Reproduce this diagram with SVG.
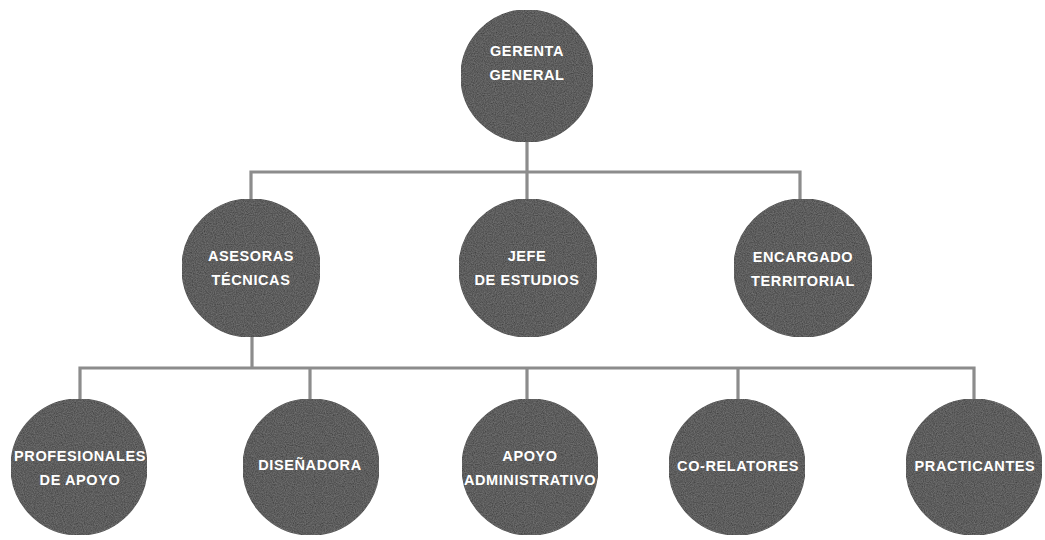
<svg xmlns="http://www.w3.org/2000/svg" width="1045" height="540" viewBox="0 0 1045 540">
  <defs>
    <filter id="grain" x="0" y="0" width="100%" height="100%">
      <feTurbulence type="fractalNoise" baseFrequency="0.9" numOctaves="2" seed="3" result="noise"/>
      <feColorMatrix in="noise" type="matrix" values="0 0 0 0 0.55  0 0 0 0 0.55  0 0 0 0 0.55  0 0 0 0.3 0" result="tint"/>
      <feComposite in="tint" in2="SourceGraphic" operator="in" result="clipped"/>
      <feMerge>
        <feMergeNode in="SourceGraphic"/>
        <feMergeNode in="clipped"/>
      </feMerge>
    </filter>
  </defs>
  <style>
    .node circle { fill: #353535; stroke: #2a2a2a; stroke-width: 1.2; filter: url(#grain); }
    .node text { fill: #ffffff; font-family: "Liberation Sans", Arial, sans-serif; font-weight: bold; font-size: 14.5px; letter-spacing: 0.6px; text-anchor: middle; }
    .conn { fill: none; stroke: #8c8c8c; stroke-width: 3.2; }
  </style>
  <rect width="1045" height="540" fill="#ffffff"/>
  <g id="connectors">
    <path class="conn" d="M527 140 V172"/>
    <path class="conn" d="M251 200 V172 H800 V200"/>
    <path class="conn" d="M527 172 V200"/>
    <path class="conn" d="M252 336 V368"/>
    <path class="conn" d="M80 399 V368 H974 V399"/>
    <path class="conn" d="M310 368 V399"/>
    <path class="conn" d="M527 368 V399"/>
    <path class="conn" d="M738 368 V399"/>
  </g>
  <g id="gerenta-general" class="node">
    <circle cx="527" cy="76" r="66"/>
    <text x="527" y="56">GERENTA</text>
    <text x="527" y="80">GENERAL</text>
  </g>
  <g id="asesoras-tecnicas" class="node">
    <circle cx="251" cy="268" r="69"/>
    <text x="251" y="261">ASESORAS</text>
    <text x="251" y="285">TÉCNICAS</text>
  </g>
  <g id="jefe-estudios" class="node">
    <circle cx="528" cy="268" r="69"/>
    <text x="527" y="261">JEFE</text>
    <text x="527" y="285">DE ESTUDIOS</text>
  </g>
  <g id="encargado-territorial" class="node">
    <circle cx="803" cy="268" r="69"/>
    <text x="803" y="262">ENCARGADO</text>
    <text x="803" y="286">TERRITORIAL</text>
  </g>
  <g id="profesionales-apoyo" class="node">
    <circle cx="79" cy="467" r="68"/>
    <text x="80" y="461">PROFESIONALES</text>
    <text x="80" y="485">DE APOYO</text>
  </g>
  <g id="disenadora" class="node">
    <circle cx="311" cy="467" r="68"/>
    <text x="310" y="470">DISEÑADORA</text>
  </g>
  <g id="apoyo-administrativo" class="node">
    <circle cx="530" cy="467" r="68"/>
    <text x="530" y="461">APOYO</text>
    <text x="530" y="485">ADMINISTRATIVO</text>
  </g>
  <g id="co-relatores" class="node">
    <circle cx="737" cy="467" r="68"/>
    <text x="738" y="471">CO-RELATORES</text>
  </g>
  <g id="practicantes" class="node">
    <circle cx="974" cy="467" r="68"/>
    <text x="975" y="471">PRACTICANTES</text>
  </g>
</svg>
